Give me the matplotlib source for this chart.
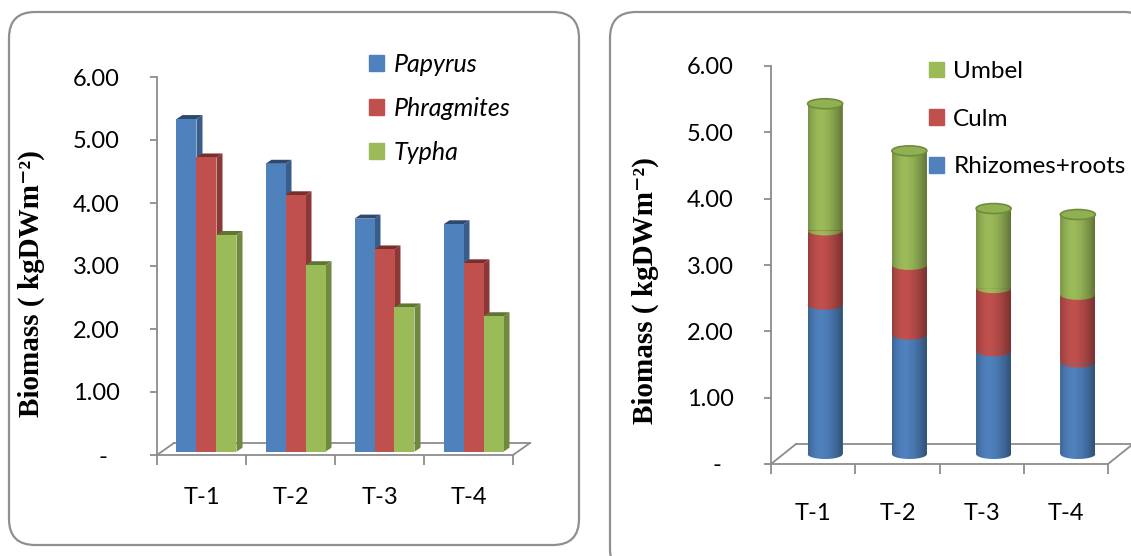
import numpy as np
import matplotlib.pyplot as plt
from matplotlib.patches import Polygon, Ellipse, FancyBboxPatch, Patch
from matplotlib.transforms import IdentityTransform

plt.rcParams['font.family'] = ['Lato', 'DejaVu Sans']

# data
categories = ["T-1", "T-2", "T-3", "T-4"]
papyrus = [5.28, 4.57, 3.70, 3.61]
phragmites = [4.67, 4.07, 3.21, 2.99]
typha = [3.44, 2.96, 2.29, 2.15]

rhizomes = [2.25, 1.80, 1.55, 1.38]
culm = [1.12, 1.05, 0.95, 1.02]
umbel = [1.91, 1.72, 1.20, 1.21]

yticks = [0, 1, 2, 3, 4, 5, 6]
ytick_labels = ["-  ", "1.00", "2.00", "3.00", "4.00", "5.00", "6.00"]
ylabel = "Biomass ( kgDWm\u207b\u00b2)"

GRAY = "#8c8c8c"
BLUE, RED, GREEN = "#4f81bd", "#c0504d", "#9bbb59"
SERIF = ["Liberation Serif", "DejaVu Serif"]

W, H = 1131, 556
fig = plt.figure(figsize=(W / 100, H / 100), dpi=100)


def add_axes_px(left, right, top, bottom):
    return fig.add_axes([left / W, 1 - bottom / H, (right - left) / W, (bottom - top) / H])


def style_axes(ax, xpad):
    ax.set_xlim(0, 4)
    ax.set_ylim(0, 6)
    ax.patch.set_visible(False)
    for s in ["top", "right"]:
        ax.spines[s].set_visible(False)
    for s in ["left", "bottom"]:
        ax.spines[s].set_color(GRAY)
        ax.spines[s].set_linewidth(1.3)
    ax.set_yticks(yticks, ytick_labels)
    ax.set_xticks(np.arange(5), [])
    ax.set_xticks(np.arange(4) + 0.5, categories, minor=True)
    ax.tick_params(axis="y", length=5, width=1.3, color=GRAY, pad=22, labelsize=17)
    ax.tick_params(axis="x", which="major", length=7, width=1.3, color=GRAY)
    ax.tick_params(axis="x", which="minor", length=0, pad=xpad, labelsize=17)


def floor(ax, fdx, fdy):
    # 3d floor outline, offsets in pixels
    bb = ax.get_position()
    sx = bb.width * W / 4
    sy = bb.height * H / 6
    dx, dy = fdx / sx, fdy / sy
    kw = dict(color=GRAY, lw=1.3, clip_on=False, zorder=0.5)
    ax.plot([dx, 4 + dx], [dy, dy], **kw)
    ax.plot([0, dx], [0, dy], **kw)
    ax.plot([4, 4 + dx], [0, dy], **kw)
    return sx, sy


# rounded frames
for (x0, y0, x1, y1) in [(9, 12, 579, 545), (610, 12, 1150, 575)]:
    fig.add_artist(FancyBboxPatch((x0, H - y1), x1 - x0, y1 - y0,
                                  boxstyle="round,pad=0,rounding_size=26",
                                  transform=IdentityTransform(),
                                  fc="white", ec="#8f8f8f", lw=1.6, zorder=-5))

# ---------- left: clustered 3d bars ----------
ax1 = add_axes_px(157, 513, 77, 455)
style_axes(ax1, 23)
sx, sy = floor(ax1, 17, 12)

bw = 20 / sx
ox, oy = 5 / sx, 3.3 / sy
ddx, ddy = 6 / sx, 4 / sy
x = np.arange(4) + 0.5
series = [(papyrus, BLUE, "#385d8a", "#2c4a70"),
          (phragmites, RED, "#8c3836", "#7a2e2c"),
          (typha, GREEN, "#71893f", "#5f7534")]
for k, (vals, c, side, top) in enumerate(series):
    xl = x - 1.5 * bw + k * bw + ox
    for xi, v in zip(xl, vals):
        ax1.add_patch(Polygon([(xi + bw, oy), (xi + bw + ddx, oy + ddy),
                               (xi + bw + ddx, oy + v + ddy), (xi + bw, oy + v)],
                              closed=True, fc=side, ec="none"))
        ax1.add_patch(Polygon([(xi, oy + v), (xi + ddx, oy + v + ddy),
                               (xi + bw + ddx, oy + v + ddy), (xi + bw, oy + v)],
                              closed=True, fc=top, ec="none"))
    ax1.bar(xl, vals, width=bw, bottom=oy, align="edge", color=c, lw=0)

ax1.legend(handles=[Patch(color=BLUE), Patch(color=RED), Patch(color=GREEN)],
           labels=["Papyrus", "Phragmites", "Typha"],
           prop=dict(family="Lato", style="italic", size=18),
           loc="upper left", bbox_to_anchor=(369 / W, 1 - 53 / H),
           bbox_transform=fig.transFigure, frameon=False, borderpad=0,
           borderaxespad=0, handlelength=0.6, handleheight=0.6,
           handletextpad=0.4, labelspacing=0.84)
fig.text(31 / W, 1 - 284 / H, ylabel, rotation=90, ha="center", va="center",
         fontsize=21, fontweight="bold", family=SERIF)

# ---------- right: stacked cylinders ----------
ax2 = add_axes_px(771, 1108, 66, 464)
style_axes(ax2, 28)
sx2, sy2 = floor(ax2, 25, 20)

cw = 35 / sx2
cox, coy = 12 / sx2, 10 / sy2
eh = 10 / sy2
xc = x + cox
t = np.linspace(np.pi, 2 * np.pi, 40)

base = np.full(4, coy)
b = base.copy()
for vals, c in [(rhizomes, BLUE), (culm, RED), (umbel, GREEN)]:
    ax2.bar(xc, vals, bottom=b, width=cw, color=c, lw=0)
    for xi, bi in zip(xc, b):
        ax2.add_patch(Polygon(np.column_stack([xi + cw / 2 * np.cos(t), bi + eh / 2 * np.sin(t)]),
                              closed=True, fc=c, ec="none"))
    b = b + np.array(vals)

# cylinder shading
u = np.linspace(0, 1, 60)
alpha = np.where(u < 0.38, 0.22 * ((0.38 - u) / 0.38) ** 2, 0.38 * ((u - 0.38) / 0.62) ** 1.6)
shade = np.zeros((1, 60, 4))
shade[0, :, 3] = alpha
for xi, bi, ti in zip(xc, base, b):
    outline = Polygon(np.vstack([np.column_stack([xi + cw / 2 * np.cos(t), bi + eh / 2 * np.sin(t)]),
                                 [[xi + cw / 2, ti], [xi - cw / 2, ti]]]),
                      closed=True, transform=ax2.transData)
    im = ax2.imshow(shade, extent=(xi - cw / 2, xi + cw / 2, bi - eh / 2, ti),
                    aspect="auto", zorder=1.5, interpolation="bilinear")
    im.set_clip_path(outline)
    ax2.add_patch(Ellipse((xi, ti), cw, eh, fc="#8fb152", ec="#718b3e", lw=1.2, zorder=2))

ax2.set_xlim(0, 4)
ax2.set_ylim(0, 6)

ax2.legend(handles=[Patch(color=GREEN), Patch(color=RED), Patch(color=BLUE)],
           labels=["Umbel", "Culm", "Rhizomes+roots"],
           prop=dict(family="Lato", size=17.5),
           loc="upper left", bbox_to_anchor=(929 / W, 1 - 61 / H),
           bbox_transform=fig.transFigure, frameon=False, borderpad=0,
           borderaxespad=0, handlelength=0.6, handleheight=0.6,
           handletextpad=0.4, labelspacing=1.1)
fig.text(645 / W, 1 - 291 / H, ylabel, rotation=90, ha="center", va="center",
         fontsize=21, fontweight="bold", family=SERIF)

fig.savefig("out.png", dpi=100)
